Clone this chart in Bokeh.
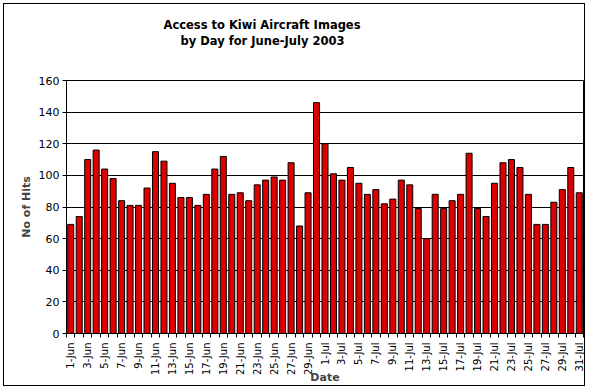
import math
from bokeh.plotting import figure
from bokeh.models import FixedTicker, Range1d, ColumnDataSource, Title
from bokeh.embed import file_html
from bokeh.resources import INLINE

# ---- data ----
dates = [f"{d}-Jun" for d in range(1, 31)] + [f"{d}-Jul" for d in range(1, 32)]
hits = [69, 74, 110, 116, 104, 98, 84, 81, 81, 92,
        115, 109, 95, 86, 86, 81, 88, 104, 112, 88,
        89, 84, 94, 97, 99, 97, 108, 68, 89, 146,
        120, 101, 97, 105, 95, 88, 91, 82, 85, 97,
        94, 79, 60, 88, 79, 84, 88, 114, 79, 74,
        95, 108, 110, 105, 88, 69, 69, 83, 91, 105,
        89]
y_ticks = [0, 20, 40, 60, 80, 100, 120, 140, 160]
title_lines = ["Access to Kiwi Aircraft Images", "by Day for June-July 2003"]
y_label = "No of Hits"
x_label = "Date"

positions = list(range(1, len(dates) + 1))
src = ColumnDataSource(dict(x=positions, hits=hits, date=dates))

FONT = "DejaVu Sans"

p = figure(width=582, height=383,
           x_range=Range1d(0.5, len(dates) + 0.5), y_range=Range1d(0, 160),
           output_backend="svg", toolbar_location=None,
           min_border_left=62, min_border_right=3,
           min_border_top=76, min_border_bottom=51)
p.styles = {"border": "1px solid black", "margin": "3px"}
p.title.visible = False
p.background_fill_color = "white"
p.border_fill_color = "white"
p.outline_line_color = "black"
p.outline_line_width = 1

p.vbar(x="x", top="hits", width=0.71, source=src,
       fill_color="#DD0000", line_color="black", line_width=1)

# y axis
p.yaxis.ticker = FixedTicker(ticks=y_ticks)
p.yaxis.axis_label = y_label
p.yaxis.axis_label_text_font = FONT
p.yaxis.axis_label_text_font_style = "bold"
p.yaxis.axis_label_text_font_size = "11px"
p.yaxis.axis_label_standoff = 3
p.yaxis.major_label_text_font = FONT
p.yaxis.major_label_text_font_size = "11px"
p.yaxis.major_label_text_color = "black"
p.yaxis.major_label_standoff = 3
p.yaxis.major_tick_out = 4
p.yaxis.major_tick_in = 0
p.yaxis.minor_tick_line_color = None
p.yaxis.axis_line_color = "black"
p.yaxis.major_tick_line_color = "black"

p.ygrid.grid_line_color = "black"
p.ygrid.grid_line_width = 1
p.ygrid.ticker = FixedTicker(ticks=y_ticks)
p.xgrid.grid_line_color = None

# x axis
label_pos = positions[::2]
p.xaxis.ticker = FixedTicker(ticks=label_pos,
                             minor_ticks=[k + 0.5 for k in range(len(dates) + 1)])
p.xaxis.major_label_overrides = {pos: dates[pos - 1] for pos in label_pos}
p.xaxis.major_label_orientation = math.pi / 2
p.xaxis.major_label_text_font = FONT
p.xaxis.major_label_text_font_size = "10px"
p.xaxis.major_label_text_color = "black"
p.xaxis.major_tick_line_color = None
p.xaxis.major_tick_out = 4
p.xaxis.minor_tick_line_color = "black"
p.xaxis.minor_tick_out = 4
p.xaxis.minor_tick_in = 0
p.xaxis.axis_line_color = "black"
p.xaxis.major_label_standoff = 5
p.xaxis.axis_label = x_label
p.xaxis.axis_label_text_font = FONT
p.xaxis.axis_label_text_font_style = "bold"
p.xaxis.axis_label_text_font_size = "11px"
p.xaxis.axis_label_standoff = -7

# titles, stacked outward from the frame: spacer, line 2, line 1
p.add_layout(Title(text=" ", standoff=30, text_font_size="1px"), "above")
p.add_layout(Title(text=title_lines[1], align="left", offset=114, standoff=0,
                   text_font=FONT, text_font_style="bold", text_line_height=1.0,
                   text_font_size="11.5px", text_color="black"), "above")
p.add_layout(Title(text=title_lines[0], align="left", offset=97, standoff=0,
                   text_font=FONT, text_font_style="bold", text_line_height=1.0,
                   text_font_size="11.5px", text_color="black"), "above")

open("out.html", "w").write(file_html(p, INLINE))
